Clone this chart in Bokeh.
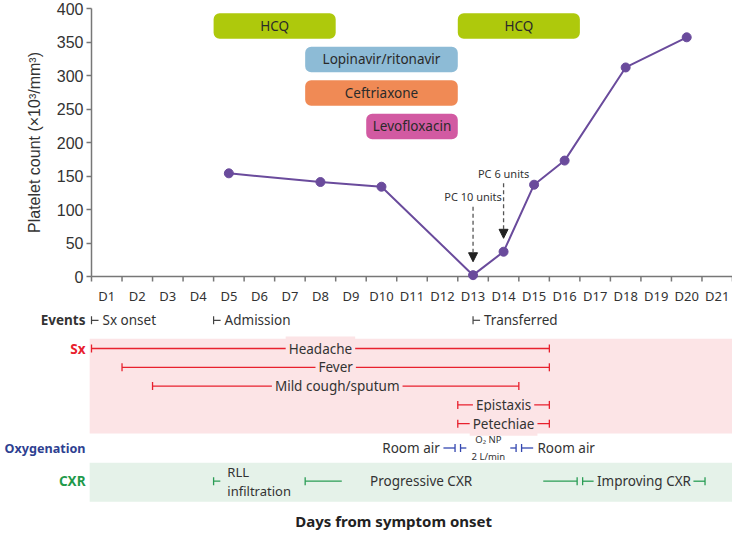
import math
from bokeh.plotting import figure
from bokeh.models import Range1d, FixedTicker, ColumnDataSource, Arrow, NormalHead
from bokeh.core.properties import value
from bokeh.embed import file_html
from bokeh.resources import INLINE

# ---------------- data ----------------
day_labels = [f"D{i}" for i in range(1, 22)]
y_ticks = [0, 50, 100, 150, 200, 250, 300, 350, 400]

platelet_days = [5, 8, 10, 13, 14, 15, 16, 18, 20]
platelet_counts = [154, 141, 134, 2, 37, 137, 173, 312, 357]

drug_names = ["HCQ", "Lopinavir/ritonavir", "Ceftriaxone", "Levofloxacin", "HCQ"]
drug_first_day = [5, 8, 8, 10, 13]
drug_last_day = [8, 12, 12, 12, 16]
drug_row = [0, 1, 2, 3, 0]

transfusion_labels = ["PC 10 units", "PC 6 units"]
transfusion_days = [13, 14]

event_labels = ["Sx onset", "Admission", "Transferred"]
event_pos = [0, 4, 12.5]

sx_labels = ["Headache", "Fever", "Mild cough/sputum", "Epistaxis", "Petechiae"]
sx_start = [0, 1, 2, 12, 12]
sx_end = [15, 15, 14, 15, 15]
sx_label_pos = [7.5, 8.0, 8.05, 13.5, 13.5]

oxy_labels = ["Room air", "O\u2082 NP\n2 L/min", "Room air"]
oxy_change = [12, 14]

cxr_labels = ["RLL\ninfiltration", "Progressive CXR", "Improving CXR"]
cxr_start = [4, 7, 16]
cxr_end = [None, 16, 20.1]
cxr_label_pos = [4.45, 10.8, 18.1]

row_titles = ["Events", "Sx", "Oxygenation", "CXR"]

# ---------------- styles ----------------
drug_color = {"HCQ": "#aec90c", "Lopinavir/ritonavir": "#8dbbd6",
              "Ceftriaxone": "#f08a55", "Levofloxacin": "#d25aa2"}
PURPLE = "#6a4b9c"
TXT = "#333333"
AXC = "#777777"
RED = "#e8212e"
PINK = "#fce4e6"
BLUE = "#2e3f91"
BLUE_LINE = "#3447b0"
GREEN = "#1f9a4b"
GREEN_LINE = "#2a9d55"
LGREEN = "#e5f2e9"
FONT = value("Noto Sans")

W, H = 732, 530
LEFT, TOP = 91, 8              # pixel position of day 0 / value 400
PX = (W - LEFT) / 21.0         # pixels per day
K = 0.67                       # pixels per platelet unit


def yv(px):
    """vertical layout position (pixels from top) -> y data value"""
    return 400 - (px - TOP) / K


def xv(px):
    """horizontal layout position (pixels from left) -> x data value"""
    return (px - LEFT) / PX


p = figure(width=W, height=H, x_range=Range1d(xv(0), 21), y_range=Range1d(yv(H), yv(0)),
           output_backend="svg", toolbar_location=None, x_axis_location=None,
           min_border_left=0, min_border_right=0, min_border_top=0, min_border_bottom=0)
p.outline_line_color = None
p.xgrid.grid_line_color = None
p.ygrid.grid_line_color = None

# ---- y axis (library axis placed at x = 0, limited to 0..400) ----
ya = p.yaxis[0]
ya.fixed_location = 0
ya.bounds = (0, 400)
ya.ticker = FixedTicker(ticks=y_ticks, minor_ticks=[])
ya.major_tick_out = 5
ya.major_tick_in = 0
ya.major_tick_line_color = AXC
ya.major_tick_line_width = 1.5
ya.minor_tick_line_color = None
ya.axis_line_color = AXC
ya.axis_line_width = 1.5
ya.major_label_standoff = 3
ya.major_label_text_font = "Liberation Sans"
ya.major_label_text_font_size = "16px"
ya.major_label_text_color = TXT
p.text(x=[xv(34)], y=[(y_ticks[0] + y_ticks[-1]) / 2], text=["Platelet count (\u00d710\u00b3/mm\u00b3)"],
       angle=math.pi / 2, text_align="center", text_baseline="middle",
       text_font=value("Liberation Sans"), text_font_size="16px", text_color=TXT)

# ---- x axis at y = 0 (day boundaries as ticks, day names centred) ----
bounds = list(range(22))
centers = [i + 0.5 for i in range(21)]
tick_len = 5 / K
p.segment(x0=[0], y0=[0], x1=[21], y1=[0], line_color=AXC, line_width=1.5)
p.segment(x0=bounds, y0=[0] * 22, x1=bounds, y1=[-tick_len] * 22, line_color=AXC, line_width=1.5)
p.text(x=centers, y=[yv(295.4)] * 21, text=day_labels, text_align="center",
       text_baseline="middle", text_font=FONT, text_font_size="13px", text_color=TXT)

# ---- drug boxes ----
row_center = [374 - 50 * r for r in drug_row]
drug_src = ColumnDataSource(dict(
    left=[d - 1 for d in drug_first_day], right=drug_last_day,
    top=[c + 19 for c in row_center], bottom=[c - 19 for c in row_center],
    xc=[(a - 1 + b) / 2 for a, b in zip(drug_first_day, drug_last_day)], yc=row_center,
    name=drug_names, color=[drug_color[n] for n in drug_names]))
p.quad(left="left", right="right", top="top", bottom="bottom", fill_color="color",
       line_color=None, border_radius=6, source=drug_src)
p.text(x="xc", y="yc", text="name", source=drug_src, text_align="center",
       text_baseline="middle", text_font=FONT, text_font_size="13.5px", text_color="#2a2a2a")

# ---- platelet series ----
x_pts = [d - 0.5 for d in platelet_days]
p.line(x_pts, platelet_counts, line_color=PURPLE, line_width=2)
p.scatter(x_pts, platelet_counts, size=9, fill_color=PURPLE, line_color=PURPLE)

# ---- transfusion arrows ----
count_at = dict(zip(platelet_days, platelet_counts))
tips = [count_at[d] + 20 for d in transfusion_days]
tails = [t + 82 for t in tips]
arr_src = ColumnDataSource(dict(x=[d - 0.5 for d in transfusion_days], y0=tails, y1=tips,
                                ty=[t + 15 for t in tails], lab=transfusion_labels))
p.add_layout(Arrow(x_start="x", y_start="y0", x_end="x", y_end="y1", source=arr_src,
                   line_color="#555555", line_width=1.3, line_dash="4 3",
                   end=NormalHead(size=9, fill_color="#222222", line_color="#222222")))
p.text(x="x", y="ty", text="lab", source=arr_src, text_align="center", text_baseline="middle",
       text_font=FONT, text_font_size="11px", text_color=TXT)

# ---------------- timeline rows ----------------
Y_EV = yv(319.8)
SX_Y0, SX_STEP = 348.0, 18.8
Y_OX = yv(447.5)
Y_CXR = yv(480.7)
Y_TITLE = yv(520.5)
CAP = 4.0 / K
LABX = xv(85)

# bands
p.quad(left=[-0.06], right=[21], top=[yv(338.3)], bottom=[yv(432.9)], fill_color=PINK, line_color=None)
p.quad(left=[-0.06], right=[21], top=[yv(462.2)], bottom=[yv(501.2)], fill_color=LGREEN, line_color=None)

sx_y = [yv(SX_Y0 + SX_STEP * i) for i in range(len(sx_labels))]

# row titles
p.text(x=[LABX] * 4, y=[Y_EV, sx_y[0], Y_OX, Y_CXR], text=row_titles,
       text_color=[TXT, RED, BLUE, GREEN], text_align="right", text_baseline="middle",
       text_font=FONT, text_font_size=["13.5px", "13.5px", "12.6px", "13.5px"],
       text_font_style="bold")

# events
ne = len(event_pos)
p.segment(x0=event_pos, y0=[Y_EV - CAP] * ne, x1=event_pos, y1=[Y_EV + CAP] * ne,
          line_color="#444444", line_width=1.2)
p.segment(x0=event_pos, y0=[Y_EV] * ne, x1=[e + 0.23 for e in event_pos], y1=[Y_EV] * ne,
          line_color="#444444", line_width=1.2)
p.text(x=[e + 0.36 for e in event_pos], y=[Y_EV] * ne, text=event_labels, text_align="left",
       text_baseline="middle", text_font=FONT, text_font_size="13.5px", text_color=TXT)

# symptoms
p.segment(x0=sx_start, y0=sx_y, x1=sx_end, y1=sx_y, line_color=RED, line_width=1.3)
caps_x = sx_start + sx_end
caps_y = sx_y + sx_y
p.segment(x0=caps_x, y0=[y - CAP for y in caps_y], x1=caps_x, y1=[y + CAP for y in caps_y],
          line_color=RED, line_width=1.3)
p.text(x=sx_label_pos, y=sx_y, text=sx_labels, text_align="center", text_baseline="middle",
       text_font=FONT, text_font_size="13.5px", text_color=TXT,
       background_fill_color=PINK, padding=3)

# oxygenation
g = 0.09
room, o2 = 0.38, 0.19
ox_caps = [oxy_change[0] - g, oxy_change[0] + g, oxy_change[1] - g, oxy_change[1] + g]
ox_x0 = [oxy_change[0] - g - room, oxy_change[0] + g, oxy_change[1] - g - o2, oxy_change[1] + g]
ox_x1 = [oxy_change[0] - g, oxy_change[0] + g + o2, oxy_change[1] - g, oxy_change[1] + g + room]
p.segment(x0=ox_x0, y0=[Y_OX] * 4, x1=ox_x1, y1=[Y_OX] * 4, line_color=BLUE_LINE, line_width=1.3)
p.segment(x0=ox_caps, y0=[Y_OX - CAP] * 4, x1=ox_caps, y1=[Y_OX + CAP] * 4,
          line_color=BLUE_LINE, line_width=1.3)
p.text(x=[oxy_change[0] - g - room - 0.12], y=[Y_OX], text=[oxy_labels[0]], text_align="right",
       text_baseline="middle", text_font=FONT, text_font_size="13.5px", text_color=TXT)
p.text(x=[oxy_change[1] + g + room + 0.14], y=[Y_OX], text=[oxy_labels[2]], text_align="left",
       text_baseline="middle", text_font=FONT, text_font_size="13.5px", text_color=TXT)
p.text(x=[(oxy_change[0] + oxy_change[1]) / 2], y=[Y_OX], text=[oxy_labels[1]],
       text_align="center", text_baseline="middle", text_font=FONT, text_font_size="9.5px",
       text_color=TXT, text_line_height=1.25)

# chest X-ray
cg = 0.09
c_caps = [cxr_start[0], cxr_start[1], cxr_end[1] - cg, cxr_start[2] + cg, cxr_end[2]]
c_x0 = [cxr_start[0], cxr_start[1], 14.8, cxr_start[2] + cg, 19.72]
c_x1 = [cxr_start[0] + 0.22, 8.2, cxr_end[1] - cg, 16.45, cxr_end[2]]
n = len(c_caps)
p.segment(x0=c_x0, y0=[Y_CXR] * n, x1=c_x1, y1=[Y_CXR] * n, line_color=GREEN_LINE, line_width=1.3)
p.segment(x0=c_caps, y0=[Y_CXR - CAP] * n, x1=c_caps, y1=[Y_CXR + CAP] * n,
          line_color=GREEN_LINE, line_width=1.3)
p.text(x=[cxr_label_pos[0]], y=[Y_CXR], text=[cxr_labels[0]], text_align="left",
       text_baseline="middle", text_font=FONT, text_font_size="13px", text_color=TXT,
       text_line_height=1.05)
p.text(x=cxr_label_pos[1:], y=[Y_CXR] * 2, text=cxr_labels[1:], text_align="center",
       text_baseline="middle", text_font=FONT, text_font_size="13.5px", text_color=TXT)

# x title
p.text(x=[9.9], y=[Y_TITLE], text=["Days from symptom onset"], text_align="center",
       text_baseline="middle", text_font=FONT, text_font_size="15px",
       text_font_style="bold", text_color="#222222")

open("out.html", "w").write(file_html(p, INLINE))
